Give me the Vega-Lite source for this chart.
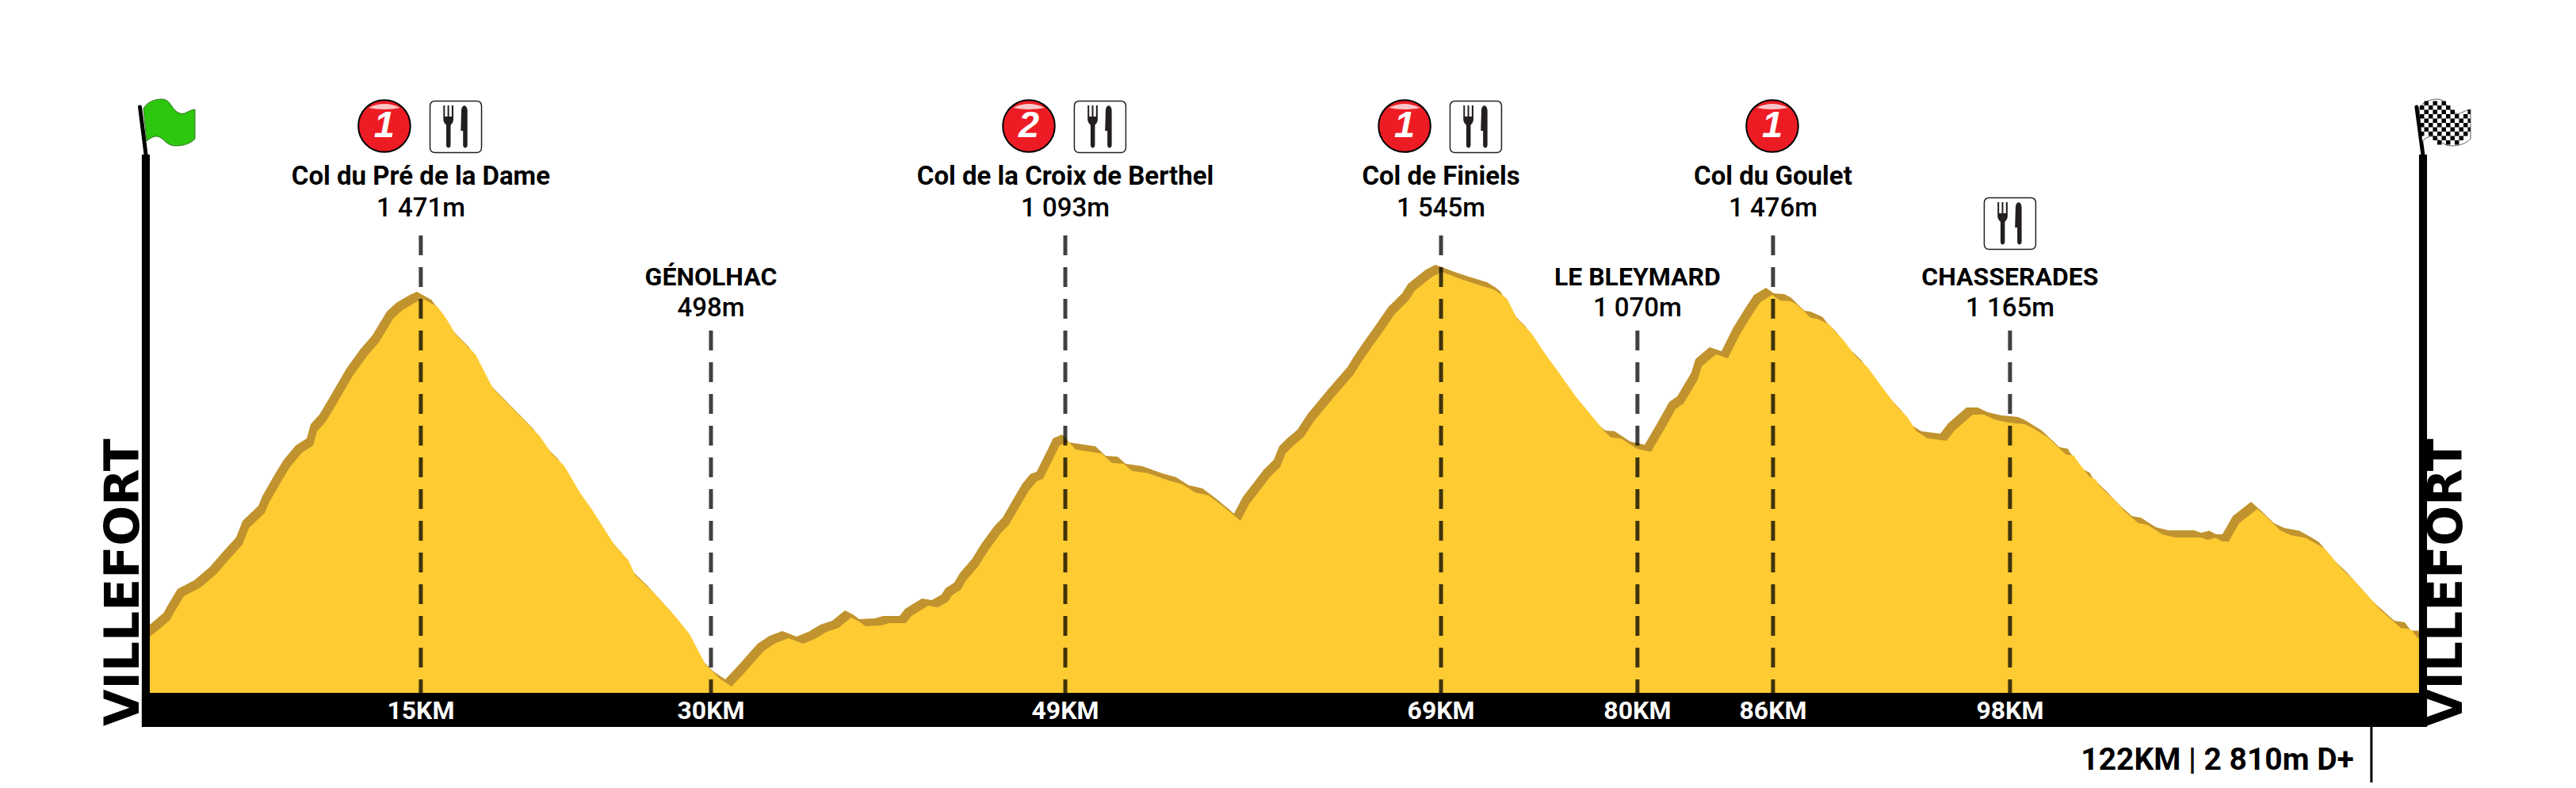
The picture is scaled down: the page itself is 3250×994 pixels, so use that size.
{
"$schema":"https://vega.github.io/schema/vega-lite/v6.json",
"width":3250,"height":994,"padding":0,"autosize":{"type":"none"},"background":"#ffffff",
"config":{"view":{"stroke":null},"axis":{"disable":true},"text":{"font":"Roboto"}},
"datasets":{
"ridge":[{"km":-0.34,"ele":620},{"km":0,"ele":632},{"km":0.75,"ele":662},{"km":0.98,"ele":682},{"km":1.49,"ele":722},{"km":2.39,"ele":744},{"km":3.24,"ele":778},{"km":3.9,"ele":814},{"km":4.64,"ele":852},{"km":4.99,"ele":894},{"km":5.84,"ele":932},{"km":6.07,"ele":958},{"km":6.73,"ele":1012},{"km":7.2,"ele":1048},{"km":7.84,"ele":1084},{"km":8.44,"ele":1102},{"km":8.65,"ele":1138},{"km":9.12,"ele":1162},{"km":9.63,"ele":1202},{"km":10.57,"ele":1278},{"km":11.34,"ele":1328},{"km":11.97,"ele":1362},{"km":12.74,"ele":1422},{"km":13.25,"ele":1444},{"km":13.98,"ele":1464},{"km":14.36,"ele":1472},{"km":15.13,"ele":1452},{"km":15.55,"ele":1426},{"km":16.11,"ele":1382},{"km":17.17,"ele":1332},{"km":18.11,"ele":1246},{"km":20.62,"ele":1126},{"km":21.26,"ele":1082},{"km":21.95,"ele":1050},{"km":22.8,"ele":982},{"km":23.44,"ele":940},{"km":24.63,"ele":852},{"km":25.4,"ele":812},{"km":25.74,"ele":776},{"km":26.72,"ele":732},{"km":28,"ele":666},{"km":28.68,"ele":626},{"km":29.53,"ele":550},{"km":30.3,"ele":514},{"km":30.94,"ele":494},{"km":31.62,"ele":528},{"km":32.26,"ele":562},{"km":32.68,"ele":584},{"km":33.32,"ele":604},{"km":34.01,"ele":616},{"km":34.77,"ele":602},{"km":35.41,"ele":614},{"km":36.05,"ele":632},{"km":36.69,"ele":642},{"km":37.37,"ele":668},{"km":37.8,"ele":658},{"km":38.14,"ele":646},{"km":38.99,"ele":648},{"km":39.42,"ele":654},{"km":40.31,"ele":654},{"km":40.61,"ele":672},{"km":41.51,"ele":698},{"km":42.04,"ele":694},{"km":42.57,"ele":708},{"km":42.78,"ele":724},{"km":43.25,"ele":738},{"km":43.55,"ele":762},{"km":44.21,"ele":798},{"km":44.74,"ele":838},{"km":45.43,"ele":882},{"km":45.85,"ele":902},{"km":46.49,"ele":954},{"km":46.92,"ele":988},{"km":47.34,"ele":1012},{"km":47.68,"ele":1018},{"km":48.32,"ele":1078},{"km":48.56,"ele":1102},{"km":49.05,"ele":1112},{"km":49.43,"ele":1092},{"km":49.98,"ele":1088},{"km":50.84,"ele":1082},{"km":51.39,"ele":1058},{"km":52.03,"ele":1056},{"km":52.46,"ele":1038},{"km":53.35,"ele":1032},{"km":54.42,"ele":1014},{"km":55.18,"ele":1004},{"km":55.84,"ele":984},{"km":56.59,"ele":976},{"km":57.27,"ele":952},{"km":58,"ele":924},{"km":58.29,"ele":912},{"km":58.76,"ele":954},{"km":59.32,"ele":988},{"km":59.87,"ele":1022},{"km":60.43,"ele":1048},{"km":60.72,"ele":1082},{"km":61.15,"ele":1102},{"km":61.7,"ele":1124},{"km":62.26,"ele":1164},{"km":63.32,"ele":1224},{"km":64.39,"ele":1282},{"km":64.73,"ele":1308},{"km":65.37,"ele":1352},{"km":66.01,"ele":1394},{"km":66.56,"ele":1432},{"km":67.33,"ele":1468},{"km":67.65,"ele":1492},{"km":68.61,"ele":1528},{"km":69.12,"ele":1540},{"km":69.59,"ele":1532},{"km":70.14,"ele":1522},{"km":70.91,"ele":1510},{"km":71.89,"ele":1496},{"km":72.31,"ele":1484},{"km":72.63,"ele":1472},{"km":73.17,"ele":1422},{"km":73.93,"ele":1386},{"km":74.7,"ele":1332},{"km":75.26,"ele":1296},{"km":76.32,"ele":1226},{"km":77.09,"ele":1182},{"km":77.9,"ele":1136},{"km":78.24,"ele":1122},{"km":78.75,"ele":1120},{"km":79.6,"ele":1094},{"km":80.37,"ele":1086},{"km":81.14,"ele":1148},{"km":81.69,"ele":1194},{"km":82.12,"ele":1208},{"km":82.88,"ele":1268},{"km":83.1,"ele":1302},{"km":83.86,"ele":1332},{"km":84.5,"ele":1322},{"km":85.14,"ele":1382},{"km":85.8,"ele":1432},{"km":86.25,"ele":1464},{"km":86.89,"ele":1482},{"km":87.31,"ele":1468},{"km":87.87,"ele":1466},{"km":88.21,"ele":1458},{"km":88.96,"ele":1424},{"km":89.28,"ele":1422},{"km":89.94,"ele":1408},{"km":90.13,"ele":1396},{"km":90.68,"ele":1370},{"km":91.32,"ele":1330},{"km":92,"ele":1300},{"km":92.85,"ele":1246},{"km":93.49,"ele":1206},{"km":94.18,"ele":1172},{"km":94.64,"ele":1138},{"km":95.24,"ele":1120},{"km":96.26,"ele":1114},{"km":96.69,"ele":1140},{"km":97.67,"ele":1180},{"km":98.27,"ele":1180},{"km":98.82,"ele":1168},{"km":99.54,"ele":1160},{"km":100.44,"ele":1156},{"km":100.82,"ele":1148},{"km":101.72,"ele":1122},{"km":102.66,"ele":1080},{"km":103.12,"ele":1076},{"km":103.21,"ele":1068},{"km":103.93,"ele":1024},{"km":104.28,"ele":1016},{"km":104.49,"ele":1000},{"km":105.21,"ele":968},{"km":105.89,"ele":934},{"km":106.57,"ele":906},{"km":107.05,"ele":902},{"km":107.85,"ele":878},{"km":108.54,"ele":870},{"km":109.92,"ele":870},{"km":110.28,"ele":864},{"km":110.73,"ele":869},{"km":111.09,"ele":860},{"km":111.43,"ele":860},{"km":111.99,"ele":906},{"km":112.97,"ele":942},{"km":113.5,"ele":920},{"km":114.2,"ele":888},{"km":114.76,"ele":876},{"km":115.57,"ele":869},{"km":116.29,"ele":850},{"km":116.63,"ele":840},{"km":117.44,"ele":794},{"km":118.12,"ele":764},{"km":118.93,"ele":722},{"km":119.53,"ele":690},{"km":120.67,"ele":642},{"km":121.23,"ele":638},{"km":121.57,"ele":617},{"km":122.08,"ele":617}],
"surface":[{"km":0,"ele":602},{"km":0.34,"ele":614},{"km":1.09,"ele":644},{"km":1.32,"ele":664},{"km":1.83,"ele":704},{"km":2.73,"ele":726},{"km":3.58,"ele":760},{"km":4.24,"ele":796},{"km":4.98,"ele":834},{"km":5.33,"ele":876},{"km":6.18,"ele":914},{"km":6.41,"ele":940},{"km":7.07,"ele":994},{"km":7.54,"ele":1030},{"km":8.18,"ele":1066},{"km":8.78,"ele":1084},{"km":8.99,"ele":1120},{"km":9.46,"ele":1144},{"km":9.97,"ele":1184},{"km":10.91,"ele":1260},{"km":11.68,"ele":1310},{"km":12.31,"ele":1344},{"km":13.08,"ele":1404},{"km":13.59,"ele":1426},{"km":14.32,"ele":1446},{"km":14.7,"ele":1454},{"km":15.47,"ele":1434},{"km":15.89,"ele":1408},{"km":16.45,"ele":1364},{"km":17.51,"ele":1314},{"km":18.45,"ele":1228},{"km":20.96,"ele":1108},{"km":21.6,"ele":1064},{"km":22.29,"ele":1032},{"km":23.14,"ele":964},{"km":23.78,"ele":922},{"km":24.97,"ele":834},{"km":25.74,"ele":794},{"km":26.08,"ele":758},{"km":27.06,"ele":714},{"km":28.34,"ele":648},{"km":29.02,"ele":608},{"km":29.87,"ele":532},{"km":30.64,"ele":496},{"km":31.28,"ele":476},{"km":31.96,"ele":510},{"km":32.6,"ele":544},{"km":33.02,"ele":566},{"km":33.66,"ele":586},{"km":34.35,"ele":598},{"km":35.11,"ele":584},{"km":35.75,"ele":596},{"km":36.39,"ele":614},{"km":37.03,"ele":624},{"km":37.71,"ele":650},{"km":38.14,"ele":640},{"km":38.48,"ele":628},{"km":39.33,"ele":630},{"km":39.76,"ele":636},{"km":40.65,"ele":636},{"km":40.95,"ele":654},{"km":41.85,"ele":680},{"km":42.38,"ele":676},{"km":42.91,"ele":690},{"km":43.12,"ele":706},{"km":43.59,"ele":720},{"km":43.89,"ele":744},{"km":44.55,"ele":780},{"km":45.08,"ele":820},{"km":45.77,"ele":864},{"km":46.19,"ele":884},{"km":46.83,"ele":936},{"km":47.26,"ele":970},{"km":47.68,"ele":994},{"km":48.02,"ele":1000},{"km":48.66,"ele":1060},{"km":48.9,"ele":1084},{"km":49.39,"ele":1094},{"km":49.77,"ele":1074},{"km":50.32,"ele":1070},{"km":51.18,"ele":1064},{"km":51.73,"ele":1040},{"km":52.37,"ele":1038},{"km":52.8,"ele":1020},{"km":53.69,"ele":1014},{"km":54.76,"ele":996},{"km":55.52,"ele":986},{"km":56.18,"ele":966},{"km":56.93,"ele":958},{"km":57.61,"ele":934},{"km":58.34,"ele":906},{"km":58.63,"ele":894},{"km":59.1,"ele":936},{"km":59.66,"ele":970},{"km":60.21,"ele":1004},{"km":60.77,"ele":1030},{"km":61.06,"ele":1064},{"km":61.49,"ele":1084},{"km":62.04,"ele":1106},{"km":62.6,"ele":1146},{"km":63.66,"ele":1206},{"km":64.73,"ele":1264},{"km":65.07,"ele":1290},{"km":65.71,"ele":1334},{"km":66.35,"ele":1376},{"km":66.9,"ele":1414},{"km":67.67,"ele":1450},{"km":67.99,"ele":1474},{"km":68.95,"ele":1510},{"km":69.46,"ele":1522},{"km":69.93,"ele":1514},{"km":70.48,"ele":1504},{"km":71.25,"ele":1492},{"km":72.23,"ele":1478},{"km":72.65,"ele":1466},{"km":72.97,"ele":1454},{"km":73.51,"ele":1404},{"km":74.27,"ele":1368},{"km":75.04,"ele":1314},{"km":75.6,"ele":1278},{"km":76.66,"ele":1208},{"km":77.43,"ele":1164},{"km":78.24,"ele":1118},{"km":78.58,"ele":1104},{"km":79.09,"ele":1102},{"km":79.94,"ele":1076},{"km":80.71,"ele":1068},{"km":81.48,"ele":1130},{"km":82.03,"ele":1176},{"km":82.46,"ele":1190},{"km":83.22,"ele":1250},{"km":83.44,"ele":1284},{"km":84.2,"ele":1314},{"km":84.84,"ele":1304},{"km":85.48,"ele":1364},{"km":86.14,"ele":1414},{"km":86.59,"ele":1446},{"km":87.23,"ele":1464},{"km":87.65,"ele":1450},{"km":88.21,"ele":1448},{"km":88.55,"ele":1440},{"km":89.3,"ele":1406},{"km":89.62,"ele":1404},{"km":90.28,"ele":1390},{"km":90.47,"ele":1378},{"km":91.02,"ele":1352},{"km":91.66,"ele":1312},{"km":92.34,"ele":1282},{"km":93.19,"ele":1228},{"km":93.83,"ele":1188},{"km":94.52,"ele":1154},{"km":94.98,"ele":1120},{"km":95.58,"ele":1102},{"km":96.6,"ele":1096},{"km":97.03,"ele":1122},{"km":98.01,"ele":1162},{"km":98.61,"ele":1162},{"km":99.16,"ele":1150},{"km":99.88,"ele":1142},{"km":100.78,"ele":1138},{"km":101.16,"ele":1130},{"km":102.06,"ele":1104},{"km":103,"ele":1062},{"km":103.46,"ele":1058},{"km":103.55,"ele":1050},{"km":104.27,"ele":1006},{"km":104.62,"ele":998},{"km":104.83,"ele":982},{"km":105.55,"ele":950},{"km":106.23,"ele":916},{"km":106.91,"ele":888},{"km":107.39,"ele":884},{"km":108.19,"ele":860},{"km":108.88,"ele":852},{"km":110.26,"ele":852},{"km":110.62,"ele":846},{"km":111.07,"ele":851},{"km":111.43,"ele":842},{"km":111.77,"ele":842},{"km":112.33,"ele":888},{"km":113.31,"ele":924},{"km":113.84,"ele":902},{"km":114.54,"ele":870},{"km":115.1,"ele":858},{"km":115.91,"ele":851},{"km":116.63,"ele":832},{"km":116.97,"ele":822},{"km":117.78,"ele":776},{"km":118.46,"ele":746},{"km":119.27,"ele":704},{"km":119.87,"ele":672},{"km":121.01,"ele":624},{"km":121.57,"ele":620},{"km":121.91,"ele":599},{"km":122.42,"ele":599}],
"waypoints":[
{"km":14.57,"dist":"15KM","name":"Col du Pré de la Dame","alt":"1 471m","tier":"high"},
{"km":30.17,"dist":"30KM","name":"GÉNOLHAC","alt":"498m","tier":"low"},
{"km":49.22,"dist":"49KM","name":"Col de la Croix de Berthel","alt":"1 093m","tier":"high"},
{"km":69.42,"dist":"69KM","name":"Col de Finiels","alt":"1 545m","tier":"high"},
{"km":79.98,"dist":"80KM","name":"LE BLEYMARD","alt":"1 070m","tier":"low"},
{"km":87.27,"dist":"86KM","name":"Col du Goulet","alt":"1 476m","tier":"high"},
{"km":100.01,"dist":"98KM","name":"CHASSERADES","alt":"1 165m","tier":"low"}],
"climbs":[{"km":12.61,"ele":1890,"cat":"1"},{"km":47.26,"ele":1890,"cat":"2"},{"km":67.46,"ele":1890,"cat":"1"},{"km":87.23,"ele":1890,"cat":"1"}],
"food":[{"km":16.45,"ele":1888},{"km":51.09,"ele":1888},{"km":71.29,"ele":1888},{"km":100.01,"ele":1644}],
"frame":[{"km":-0.43,"km2":0,"ele":1818,"ele2":374},{"km":122,"km2":122.43,"ele":1818,"ele2":374},{"km":-0.43,"km2":122.43,"ele":460,"ele2":374}],
"masts":[{"km":-0.53,"km2":-0.21,"ele":1938,"ele2":1818},{"km":121.87,"km2":122.21,"ele":1938,"ele2":1818}]
},
"encoding":{
"x":{"field":"km","type":"quantitative","scale":{"domain":[-8.054,130.44],"range":[0,3250],"nice":false,"zero":false}}
},
"layer":[
{"data":{"name":"ridge"},"mark":{"type":"area","color":"#C0932E"},"encoding":{"y":{"field":"ele","type":"quantitative","scale":{"domain":[220,2208],"range":[994,0],"nice":false,"zero":false}},"y2":{"datum":400}}},
{"data":{"name":"surface"},"mark":{"type":"area","color":"#FECB33"},"encoding":{"y":{"field":"ele","type":"quantitative"},"y2":{"datum":400}}},
{"data":{"name":"waypoints"},"transform":[{"filter":"datum.tier==='high'"}],"mark":{"type":"rule","color":"#000000","opacity":0.75,"strokeWidth":5,"strokeDash":[25,15]},"encoding":{"y":{"datum":1614,"type":"quantitative"},"y2":{"datum":460}}},
{"data":{"name":"waypoints"},"transform":[{"filter":"datum.tier==='low'"}],"mark":{"type":"rule","color":"#000000","opacity":0.75,"strokeWidth":5,"strokeDash":[25,15]},"encoding":{"y":{"datum":1374,"type":"quantitative"},"y2":{"datum":460}}},
{"data":{"name":"frame"},"mark":{"type":"rect","color":"#000000"},"encoding":{"y":{"field":"ele","type":"quantitative"},"x2":{"field":"km2"},"y2":{"field":"ele2"}}},
{"data":{"name":"masts"},"mark":{"type":"rule","color":"#000000","strokeWidth":5,"strokeCap":"round"},"encoding":{"y":{"field":"ele","type":"quantitative"},"x2":{"field":"km2"},"y2":{"field":"ele2"}}},
{"data":{"name":"waypoints"},"mark":{"type":"text","color":"#ffffff","fontWeight":"bold","fontSize":32,"align":"center","baseline":"alphabetic"},"encoding":{"y":{"datum":394,"type":"quantitative"},"text":{"field":"dist"}}},
{"data":{"name":"waypoints"},"transform":[{"filter":"datum.tier==='high'"}],"mark":{"type":"text","color":"#000000","fontWeight":"bold","fontSize":33,"align":"center","baseline":"alphabetic"},"encoding":{"y":{"datum":1742,"type":"quantitative"},"text":{"field":"name"}}},
{"data":{"name":"waypoints"},"transform":[{"filter":"datum.tier==='high'"}],"mark":{"type":"text","color":"#000000","fontWeight":500,"fontSize":33,"align":"center","baseline":"alphabetic"},"encoding":{"y":{"datum":1662,"type":"quantitative"},"text":{"field":"alt"}}},
{"data":{"name":"waypoints"},"transform":[{"filter":"datum.tier==='low'"}],"mark":{"type":"text","color":"#000000","fontWeight":"bold","fontSize":32,"align":"center","baseline":"alphabetic"},"encoding":{"y":{"datum":1488,"type":"quantitative"},"text":{"field":"name"}}},
{"data":{"name":"waypoints"},"transform":[{"filter":"datum.tier==='low'"}],"mark":{"type":"text","color":"#000000","fontWeight":500,"fontSize":33,"align":"center","baseline":"alphabetic"},"encoding":{"y":{"datum":1410,"type":"quantitative"},"text":{"field":"alt"}}},
{"data":{"name":"climbs"},"mark":{"type":"point","shape":"circle","filled":true,"opacity":1,"fill":"#ED1C24","stroke":"#000000","strokeWidth":2,"size":4300},"encoding":{"y":{"field":"ele","type":"quantitative"}}},
{"data":{"name":"climbs"},"mark":{"type":"point","shape":"M-20 -23Q0 -33 20 -23Q0 -19 -20 -23Z","filled":true,"opacity":0.75,"fill":"#ffffff","strokeWidth":0,"size":4},"encoding":{"y":{"field":"ele","type":"quantitative"}}},
{"data":{"name":"climbs"},"mark":{"type":"text","color":"#ffffff","font":"Liberation Sans","fontWeight":"bold","fontStyle":"italic","fontSize":47,"align":"center","baseline":"middle"},"encoding":{"y":{"field":"ele","type":"quantitative"},"text":{"field":"cat"}}},
{"data":{"name":"food"},"mark":{"type":"point","shape":"M-26 -32.5H26Q32.5 -32.5 32.5 -26V26Q32.5 32.5 26 32.5H-26Q-32.5 32.5 -32.5 26V-26Q-32.5 -32.5 -26 -32.5Z","filled":true,"opacity":1,"fill":"#ffffff","stroke":"#231F20","strokeWidth":1.5,"size":4},"encoding":{"y":{"field":"ele","type":"quantitative"}}},
{"data":{"name":"food"},"mark":{"type":"point","shape":"M-15.7 -27H-13.7V-13H-10.4V-27H-8.4V-13H-5.1V-27H-3V-10C-3 -5 -5.5 -4 -6.5 -2V23C-6.5 27.5 -12 27.5 -12 23V-2C-13 -4 -15.7 -5 -15.7 -10ZM7 -20C7 -29 14.7 -29 14.7 -20V23C14.7 27.5 9.2 27.5 9.2 23V5L6.3 5Z","filled":true,"opacity":1,"fill":"#231F20","strokeWidth":0,"size":4},"encoding":{"y":{"field":"ele","type":"quantitative"}}},
{"data":{"values":[{"km":1.108,"ele":1898}]},"mark":{"type":"point","shape":"M-34 -18C-30 -26 -20 -30 -11 -30C-1 -30 0 -21 7 -15C12 -11 16 -11 20 -13C24 -15 28 -17 31 -17L31 20C26 26 16 29 7 29C-3 29 -6 23 -12 19C-17 15 -23 17 -30 23Z","filled":true,"opacity":1,"fill":"#2EC70F","stroke":"#1a5a10","strokeWidth":0.8,"size":4},"encoding":{"y":{"field":"ele","type":"quantitative"}}},
{"data":{"values":[{"km":123.45,"ele":1898}]},"mark":{"type":"point","shape":"M-34 -18C-30 -26 -20 -30 -11 -30C-1 -30 0 -21 7 -15C12 -11 16 -11 20 -13C24 -15 28 -17 31 -17L31 20C26 26 16 29 7 29C-3 29 -6 23 -12 19C-17 15 -23 17 -30 23Z","filled":true,"opacity":1,"fill":"#ffffff","stroke":"#333333","strokeWidth":0.8,"size":4},"encoding":{"y":{"field":"ele","type":"quantitative"}}},
{"data":{"values":[{"km":123.45,"ele":1898}]},"mark":{"type":"point","shape":"M-6 -4h1v1h-1zM-6 -2h1v1h-1zM-6 0h1v1h-1zM-6 2h1v1h-1zM-5 -5h1v1h-1zM-5 -3h1v1h-1zM-5 -1h1v1h-1zM-5 1h1v1h-1zM-4 -4h1v1h-1zM-4 -2h1v1h-1zM-4 0h1v1h-1zM-4 2h1v1h-1zM-3 -5h1v1h-1zM-3 -3h1v1h-1zM-3 -1h1v1h-1zM-3 1h1v1h-1zM-3 3h1v1h-1zM-2 -4h1v1h-1zM-2 -2h1v1h-1zM-2 0h1v1h-1zM-2 2h1v1h-1zM-2 4h1v1h-1zM-1 -5h1v1h-1zM-1 -3h1v1h-1zM-1 -1h1v1h-1zM-1 1h1v1h-1zM-1 3h1v1h-1zM0 -4h1v1h-1zM0 -2h1v1h-1zM0 0h1v1h-1zM0 2h1v1h-1zM0 4h1v1h-1zM1 -3h1v1h-1zM1 -1h1v1h-1zM1 1h1v1h-1zM1 3h1v1h-1zM2 -2h1v1h-1zM2 0h1v1h-1zM2 2h1v1h-1zM2 4h1v1h-1zM3 -1h1v1h-1zM3 1h1v1h-1zM3 3h1v1h-1zM4 -2h1v1h-1zM4 0h1v1h-1zM4 2h1v1h-1zM5 -3h.6v1h-.6zM5 -1h.6v1h-.6zM5 1h.6v1h-.6z","filled":true,"opacity":1,"fill":"#000000","strokeWidth":0,"size":121},"encoding":{"y":{"field":"ele","type":"quantitative"}}},
{"data":{"values":[{"km":119.44,"ele":374,"ele2":234}]},"mark":{"type":"rule","color":"#000000","strokeWidth":3},"encoding":{"y":{"field":"ele","type":"quantitative"},"y2":{"field":"ele2"}}},
{"data":{"values":[{"km":118.5,"ele":266,"label":"122KM | 2 810m D+"}]},"mark":{"type":"text","color":"#000000","fontWeight":"bold","fontSize":39,"align":"right","baseline":"alphabetic"},"encoding":{"y":{"field":"ele","type":"quantitative"},"text":{"field":"label"}}},
{"data":{"values":[{"km":-0.6,"ele":376,"label":"VILLEFORT"},{"km":124.3,"ele":376,"label":"VILLEFORT"}]},"mark":{"type":"text","color":"#000000","font":"DejaVu Sans","fontWeight":"bold","fontSize":60,"angle":270,"align":"left","baseline":"alphabetic"},"encoding":{"y":{"field":"ele","type":"quantitative"},"text":{"field":"label"}}}
]
}
